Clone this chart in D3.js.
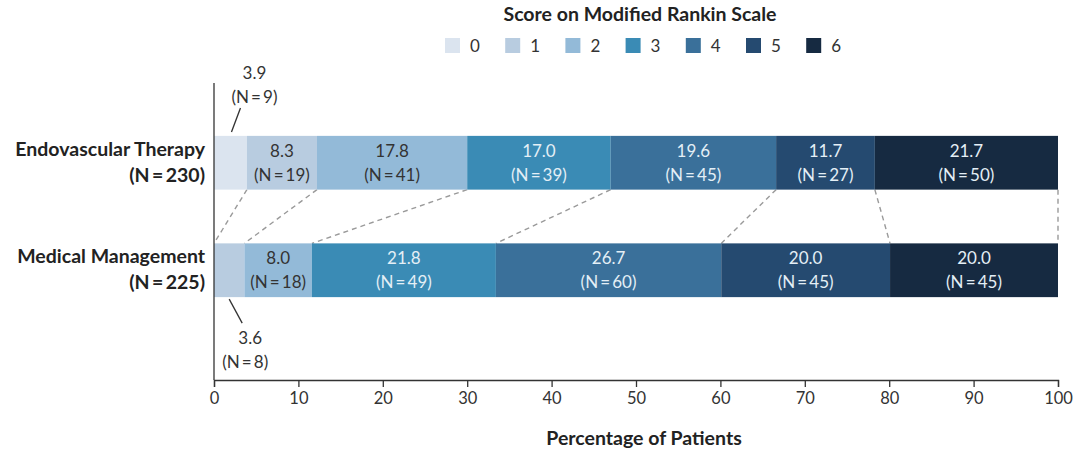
<!DOCTYPE html>
<html><head><meta charset="utf-8">
<script src="https://cdn.jsdelivr.net/npm/d3@7"></script>
<style>body{margin:0;background:#fff}svg{display:block;font-family:Lato,"Open Sans",sans-serif}</style>
</head><body>
<svg id="c" width="1080" height="455"></svg>
<script>
const categories = ["Endovascular Therapy", "Medical Management"];
const groupN = ["(N=230)", "(N=225)"];
const scores = ["0", "1", "2", "3", "4", "5", "6"];
const endoPct = [3.9, 8.3, 17.8, 17.0, 19.6, 11.7, 21.7];
const endoN = [9, 19, 41, 39, 45, 27, 50];
const medPct = [0, 3.6, 8.0, 21.8, 26.7, 20.0, 20.0];
const medN = [0, 8, 18, 49, 60, 45, 45];
const xTicks = [0, 10, 20, 30, 40, 50, 60, 70, 80, 90, 100];
const colors = ["#dbe4ef", "#b8cce0", "#93bad8", "#3a8bb5", "#3a709a", "#254a70", "#162a41"];
const textColors = ["#333", "#333", "#333", "#e4eff6", "#e4eff6", "#e4eff6", "#e4eff6"];

const svg = d3.select("#c");
const x = d3.scaleLinear().domain([0, 100]).range([214, 1058]).clamp(true);
const y = d3.scaleBand().domain(categories).range([109, 324]).paddingInner(0.5).paddingOuter(0.25);
const color = d3.scaleOrdinal().domain(scores).range(colors);
const nLab = n => `(N\u2009=\u2009${n})`;

const series = [
  {cat: categories[0], n: groupN[0], pct: endoPct, cnt: endoN},
  {cat: categories[1], n: groupN[1], pct: medPct, cnt: medN}
];
series.forEach(s => {
  let c = 0;
  s.segs = s.pct.map((p, i) => { const seg = {score: scores[i], i, p, n: s.cnt[i], x0: c, x1: c + p}; c += p; return seg; });
});

// dashed connectors
const bw = y.bandwidth();
for (let i = 0; i < scores.length; i++) {
  const a = series[0].segs[i].x1, b = series[1].segs[i].x1;
  svg.append("line")
    .attr("x1", x(a)).attr("y1", y(categories[0]) + bw)
    .attr("x2", x(b)).attr("y2", y(categories[1]))
    .attr("stroke", "#9a9a9a").attr("stroke-width", 1.4).attr("stroke-dasharray", "5,4");
}

const FS = 17;
// bars
series.forEach(s => {
  const g = svg.append("g");
  g.selectAll("rect").data(s.segs.filter(d => d.p > 0)).join("rect")
    .attr("x", d => x(d.x0)).attr("width", d => x(d.x1) - x(d.x0))
    .attr("y", y(s.cat)).attr("height", bw)
    .attr("fill", d => color(d.score));
  const inside = s.segs.filter(d => d.p >= 5);
  g.selectAll("text.v").data(inside).join("text")
    .attr("x", d => (x(d.x0) + x(d.x1)) / 2).attr("y", y(s.cat) + 21)
    .attr("text-anchor", "middle").attr("font-size", FS).attr("fill", d => textColors[d.i])
    .text(d => d.p.toFixed(1));
  g.selectAll("text.n").data(inside).join("text")
    .attr("x", d => (x(d.x0) + x(d.x1)) / 2).attr("y", y(s.cat) + 45)
    .attr("text-anchor", "middle").attr("font-size", FS).attr("fill", d => textColors[d.i])
    .text(d => nLab(d.n));
  // category labels
  svg.append("text").attr("x", 205).attr("y", y(s.cat) + 20).attr("text-anchor", "end")
    .attr("font-size", 19.5).attr("font-weight", "bold").attr("fill", "#222").text(s.cat);
  svg.append("text").attr("x", 205).attr("y", y(s.cat) + 46).attr("text-anchor", "end")
    .attr("font-size", 19.5).attr("font-weight", "bold").attr("fill", "#222").text(s.n.replace("=", "\u2009=\u2009"));
});

// outside labels for small segments
const sEndo = series[0].segs.find(d => d.p > 0 && d.p < 5);
const cxE = (x(sEndo.x0) + x(sEndo.x1)) / 2;
svg.append("line").attr("x1", cxE + 10).attr("y1", 108).attr("x2", cxE + 1).attr("y2", 132).attr("stroke", "#333").attr("stroke-width", 1.3);
svg.append("text").attr("x", cxE + 24).attr("y", 79).attr("text-anchor", "middle").attr("font-size", FS).attr("fill", "#333").text(sEndo.p.toFixed(1));
svg.append("text").attr("x", cxE + 24).attr("y", 103).attr("text-anchor", "middle").attr("font-size", FS).attr("fill", "#333").text(nLab(sEndo.n));

const sMed = series[1].segs.find(d => d.p > 0 && d.p < 5);
const cxM = (x(sMed.x0) + x(sMed.x1)) / 2;
const yM = y(categories[1]) + bw;
svg.append("line").attr("x1", cxM).attr("y1", yM + 2).attr("x2", cxM + 13).attr("y2", yM + 26).attr("stroke", "#333").attr("stroke-width", 1.3);
svg.append("text").attr("x", cxM + 21).attr("y", yM + 47).attr("text-anchor", "middle").attr("font-size", FS).attr("fill", "#333").text(sMed.p.toFixed(1));
svg.append("text").attr("x", cxM + 16).attr("y", yM + 71).attr("text-anchor", "middle").attr("font-size", FS).attr("fill", "#333").text(nLab(sMed.n));

// axes
svg.append("line").attr("x1", 214).attr("x2", 214).attr("y1", 83).attr("y2", 380).attr("stroke", "#333").attr("stroke-width", 1.3);
const xAxis = svg.append("g").attr("transform", "translate(0,380)")
  .call(d3.axisBottom(x).tickValues(xTicks).tickSize(7).tickPadding(5).tickFormat(d3.format("d")));
xAxis.select(".domain").attr("stroke", "#333").attr("stroke-width", 1.3);
xAxis.selectAll(".tick line").attr("stroke", "#333").attr("stroke-width", 1.3);
xAxis.selectAll(".tick text").attr("font-size", 16.5).attr("fill", "#333").attr("font-family", "Lato,sans-serif");
svg.append("text").attr("x", 644).attr("y", 445).attr("text-anchor", "middle").attr("font-size", 19.5)
  .attr("font-weight", "bold").attr("fill", "#222").text("Percentage of Patients");

// legend
svg.append("text").attr("x", 640).attr("y", 21).attr("text-anchor", "middle").attr("font-size", 19.5)
  .attr("font-weight", "bold").attr("fill", "#222").text("Score on Modified Rankin Scale");
const lg = svg.append("g").selectAll("g").data(scores).join("g")
  .attr("transform", (d, i) => `translate(${445 + i * 60.2},38)`);
lg.append("rect").attr("width", 15).attr("height", 15).attr("fill", d => color(d));
lg.append("text").attr("x", 25).attr("y", 14).attr("font-size", 17).attr("fill", "#333").text(d => d);
</script>
</body></html>
